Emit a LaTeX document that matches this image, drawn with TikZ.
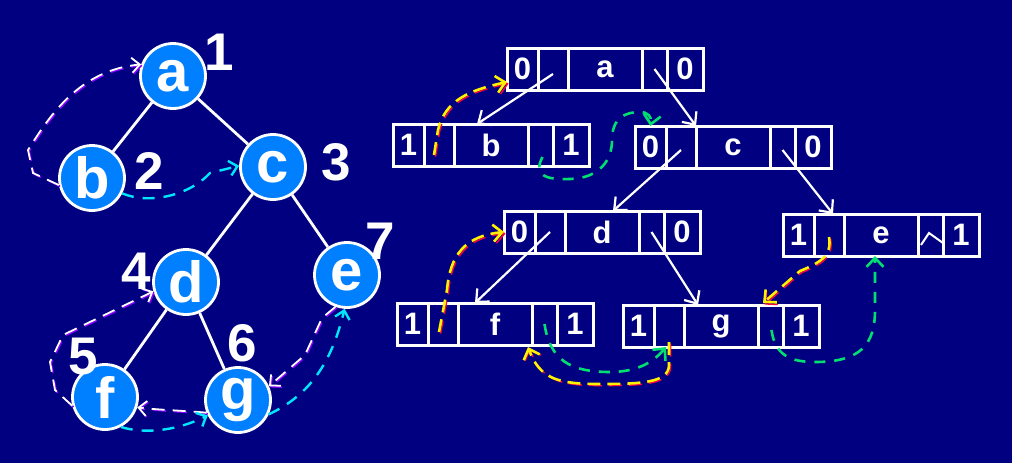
\documentclass[tikz,border=0pt]{standalone}
\usepackage{fontspec}
\setmainfont{Liberation Sans}
\usetikzlibrary{arrows.meta,calc}
\definecolor{bg}{RGB}{0,0,128}
\definecolor{nodeblue}{RGB}{0,128,255}
\definecolor{grn}{RGB}{0,224,112}
\definecolor{cyn}{RGB}{0,230,255}
\definecolor{vio}{RGB}{140,0,255}
\definecolor{rd}{RGB}{255,0,64}
\newcommand\ent[6]{%
  \node[cell,minimum width=31pt,anchor=north west] (#1-1) at (#2,#3) {#4};
  \node[cell,minimum width=30pt,anchor=north west] (#1-2) at (#1-1.north east) {};
  \node[cell,minimum width=74pt,anchor=north west] (#1-3) at (#1-2.north east) {#5};
  \node[cell,minimum width=25pt,anchor=north west] (#1-4) at (#1-3.north east) {};
  \node[cell,minimum width=36pt,anchor=north west] (#1-5) at (#1-4.north east) {#6};
}
\begin{document}
\begin{tikzpicture}[x=1pt,y=-1pt,
  circ/.style={circle,draw=white,line width=2.8pt,fill=nodeblue,minimum size=65pt,inner sep=0pt,
    text=white,font=\fontsize{58}{58}\selectfont\bfseries},
  numlbl/.style={text=white,inner sep=0pt,font=\fontsize{53}{53}\selectfont\bfseries},
  cell/.style={draw=white,line width=3pt,minimum height=42pt,inner sep=0pt,outer sep=0pt,
    text=white,font=\fontsize{31}{31}\selectfont\bfseries},
  edge/.style={white,line width=2.8pt},
  ptr/.style={white,line width=2.2pt,-{Straight Barb[length=10pt,width=18pt]}},
  vdash/.style={white,line width=1.8pt,dash pattern=on 13pt off 8pt,
    -{Straight Barb[length=8pt,width=15pt]},
    preaction={draw=vio,line width=1.6pt,dash pattern=on 13pt off 8pt,
      transform canvas={xshift=1.2pt,yshift=-1.2pt}}},
  cdash/.style={cyn,line width=2.4pt,dash pattern=on 12pt off 9pt,
    -{Straight Barb[length=8pt,width=15pt]}},
  ydash/.style={yellow,line width=2.6pt,dash pattern=on 13pt off 7pt,
    -{Straight Barb[length=9pt,width=17pt]},
    preaction={draw=rd,line width=1.4pt,dash pattern=on 13pt off 7pt,
      transform canvas={xshift=1.6pt,yshift=-1.6pt}}},
  gdash/.style={grn,line width=2.6pt,dash pattern=on 11pt off 9pt,
    -{Straight Barb[length=9pt,width=17pt]}}]
\fill[bg] (0,0) rectangle (1012,463);
\useasboundingbox (0,0) rectangle (1012,463);

% ---- tree ----
\node[circ] (a) at (173,76) {a};
\node[circ] (b) at (92,178) {b};
\node[circ] (c) at (273,167) {c};
\node[circ] (d) at (186,282) {d};
\node[circ] (e) at (347,275) {e};
\node[circ] (f) at (105,397) {f};
\node[circ] (g) at (238,400) {g};
\node[numlbl] (n1) at (219,52) {1};
\node[numlbl] (n2) at (149,171) {2};
\node[numlbl] (n3) at (336,162) {3};
\node[numlbl] (n4) at (136,271) {4};
\node[numlbl] (n5) at (83,357) {5};
\node[numlbl] (n6) at (242,343) {6};
\node[numlbl] (n7) at (380,241) {7};
\draw[edge] (a) -- (b);
\draw[edge] (a) -- (c);
\draw[edge] (c) -- (d);
\draw[edge] (c) -- (e);
\draw[edge] (d) -- (f);
\draw[edge] (d) -- (g);

% thread arrows on the tree
\draw[vdash] (b.192) -- (33,173) -- (28,150) .. controls (50,115) and (80,70) .. (a.160);
\draw[cdash] (b.-27) .. controls (150,205) and (190,195) .. (210,173) -- (c.178);
\draw[vdash] (f.195) -- (55,390) -- (50,362) -- (63,335) -- (d.196);
\draw[vdash] (e.250) -- (322,318) -- (305,355) -- (g.24);
\draw[vdash] (g.202) .. controls (190,411) and (160,410) .. (f.-18);
\draw[cdash] (f.-62) .. controls (140,433) and (172,433) .. (g.207);
\draw[cdash] (g.-25) .. controls (312,394) and (332,360) .. (e.266);

% ---- threaded list ----
\ent{A}{507}{48}{0}{a}{0}
\ent{B}{393}{124}{1}{b}{1}
\ent{C}{635}{126}{0}{c}{0}
\ent{D}{504}{211}{0}{d}{0}
\ent{E}{783}{214}{1}{e}{1}
\ent{F}{397}{303}{1}{f}{1}
\ent{G}{623}{305}{1}{g}{1}
\draw[white,line width=2pt] ([xshift=3pt,yshift=-10pt]E-4.west) -- ([xshift=11pt,yshift=2pt]E-4.west) -- ([yshift=-8pt]E-4.east);

\draw[ptr] ([yshift=-5pt]A-2.center) -- ([xshift=23pt]B-3.north west);
\draw[ptr] (A-4.center) -- (C-2.north east);
\draw[ptr] ([yshift=-3pt]C-2.center) -- ([xshift=48pt]D-3.north west);
\draw[ptr] ([yshift=-3pt]C-4.center) -- ([xshift=19pt]E-2.north west);
\draw[ptr] (D-2.center) -- ([xshift=17pt]F-3.north west);
\draw[ptr] (D-4.center) -- ([xshift=14pt]G-3.north west);

\draw[ydash] ([xshift=-5pt,yshift=-10pt]B-2.center) -- (438,130) .. controls (445,100) and (470,90) .. ([yshift=8pt]A-1.south west);
\draw[ydash] ([xshift=-4pt,yshift=-8pt]F-2.center) -- (447,290) .. controls (450,255) and (465,236) .. (D-1.west);
\draw[ydash] ([yshift=-2pt]E-2.center) .. controls (832,255) and (822,262) .. (800,271) -- ([xshift=5pt,yshift=2pt]G-4.north west);
\draw[ydash] ([yshift=-16pt]G-2.center) -- (669,365) .. controls (669,383) and (640,384) .. (600,384) .. controls (560,384) and (540,380) .. ([xshift=-4pt,yshift=-2pt]F-3.south east);

\draw[gdash] ([xshift=2pt,yshift=-12pt]B-4.center) .. controls (533,175) and (545,180) .. (570,179) .. controls (600,178) and (612,160) .. (612,140) .. controls (612,118) and (625,112) .. (640,112) .. controls (648,112) and (652,117) .. (C-1.north);
\draw[gdash] (F-4.center) .. controls (550,360) and (570,372) .. (610,372) .. controls (640,372) and (655,360) .. ([xshift=-3pt]G-2.south);
\draw[gdash] ([xshift=1pt,yshift=-4pt]G-4.center) .. controls (775,355) and (790,362) .. (815,362) .. controls (860,362) and (875,345) .. (875,310) -- ([xshift=-6pt]E-3.south);
\end{tikzpicture}
\end{document}
